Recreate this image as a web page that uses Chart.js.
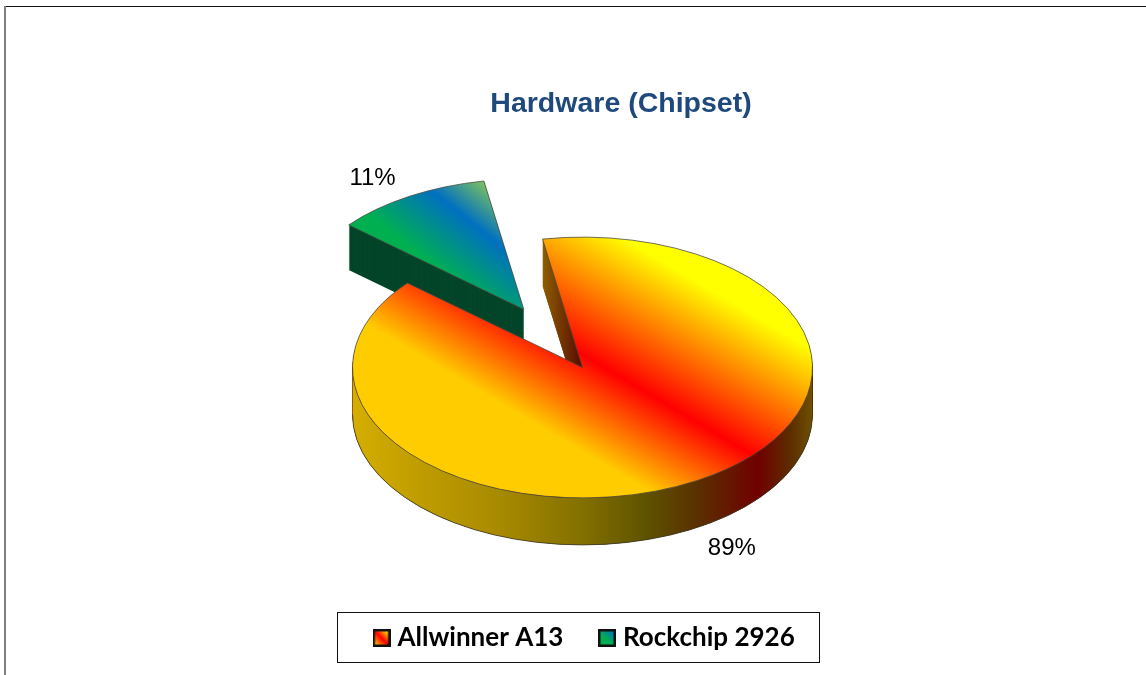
<!DOCTYPE html>
<html>
<head>
<meta charset="utf-8">
<style>html,body{margin:0;padding:0;background:#fff}canvas{display:block}</style>
<script src="https://cdn.jsdelivr.net/npm/chart.js@4"></script>
</head>
<body>
<canvas id="c" width="1146" height="675"></canvas>
<script>
const categories = ["Allwinner A13", "Rockchip 2926"];
const seriesValues = [89, 11];
const valueLabels = ["89%", "11%"];
const chartTitle = "Hardware (Chipset)";

// layout / style of the tilted pie
const TX = 582.5, TY = 367.5, K = 0.567, R = 230, DEPTHS = [47, 45], EXPLODE = 118;
const labelOffsets = [[35, 68], [-37, -18]];

function cc(chart){const a=chart.chartArea;return [(a.left+a.right)/2,(a.top+a.bottom)/2];}
function makeBandGradient(ctx, center, slope, stops){
  const g=[-slope,K], n=g[0]*g[0]+g[1]*g[1], t0=TY-slope*TX;
  const P=t=>[center[0]+g[0]*(t-t0)/n, center[1]+g[1]*(t-t0)/n];
  const a=stops[0][0], b=stops[stops.length-1][0];
  const p=P(a), q=P(b);
  const gr=ctx.createLinearGradient(p[0],p[1],q[0],q[1]);
  stops.forEach(s=>gr.addColorStop((s[0]-a)/(b-a),s[1]));
  return gr;
}
const mainStops=[[-130,"#FFFF00"],[11,"#FF0000"],[108,"#FFCC00"],[300,"#FFCC00"]];
const rockStops=[[-215,"#92D050"],[-155,"#0070C0"],[-80,"#00B050"],[100,"#00B050"]];
const topCache={};
function topFill(c){
  const i=c.dataIndex; if(i===undefined) return "#000";
  if(topCache[i]) return topCache[i];
  const center=cc(c.chart), ctx=c.chart.ctx;
  topCache[i]= i===0 ? makeBandGradient(ctx,center,0.59,mainStops)
                     : makeBandGradient(ctx,center,0.8,rockStops);
  return topCache[i];
}
function swatch(i){
  const s=document.createElement("canvas"); s.width=18; s.height=18;
  const x=s.getContext("2d");
  const g=x.createLinearGradient(16,2,2,16);
  if(i===0){g.addColorStop(0,"#FFFF00");g.addColorStop(.5,"#FF0000");g.addColorStop(1,"#FFCC00");}
  else{g.addColorStop(0,"#0070C0");g.addColorStop(.6,"#00B050");g.addColorStop(1,"#00B050");}
  x.fillStyle="#111"; x.fillRect(0,0,18,18);
  x.fillStyle=g; x.fillRect(2.5,2.5,13,13);
  return s;
}
const swatches=categories.map((_,i)=>swatch(i));

function tilt(ctx,center,dy){
  ctx.translate(TX,TY+dy); ctx.scale(1,K); ctx.translate(-center[0],-center[1]);
}
const wallStops=[[0,"#D6AE00"],[.17,"#BC9A00"],[.32,"#A88A00"],[.5,"#837000"],[.64,"#5E5200"],[.75,"#5A3000"],[.88,"#700000"],[.95,"#5C2C00"],[1,"#6E5200"]];
const piePlugin={
  id:"pie3d",
  afterDatasetsUpdate(chart){
    const meta=chart.getDatasetMeta(0), el=meta.data[1];
    const mid=(el.startAngle+el.endAngle)/2;
    el.x+=Math.cos(mid)*EXPLODE; el.y+=Math.sin(mid)*EXPLODE;
  },
  afterLayout(chart){
    chart.titleBlock.left+=48; chart.titleBlock.right+=48;
    chart.titleBlock.top=104.5-17;
    const lg=chart.legend, pad=lg.options.labels.padding;
    lg.left=378.5-pad; lg.right=1146;
    lg.top=638-13-pad;
  },
  beforeDatasetsDraw(chart){
    const ctx=chart.ctx, center=cc(chart), meta=chart.getDatasetMeta(0);
    const main=meta.data[0], rock=meta.data[1];
    const sector=el=>{ctx.beginPath();ctx.moveTo(el.x,el.y);ctx.arc(el.x,el.y,el.outerRadius,el.startAngle,el.endAngle);ctx.closePath();};
    // Rockchip extruded side
    for(let d=DEPTHS[1];d>=1;d--){
      ctx.save(); tilt(ctx,center,d); sector(rock); ctx.fillStyle="#04452A"; ctx.fill(); ctx.restore();
    }
    // Allwinner cut wall
    const preV=s=>center[1]+(s-TY)/K;
    for(let d=DEPTHS[0];d>=1;d--){
      ctx.save(); tilt(ctx,center,d);
      const g=ctx.createLinearGradient(0,preV(237),0,preV(367));
      g.addColorStop(0,"#8E5E00"); g.addColorStop(1,"#560A00");
      sector(main); ctx.fillStyle=g; ctx.fill(); ctx.restore();
    }
    // Allwinner outer wall (front half)
    ctx.save(); tilt(ctx,center,0);
    const preX=s=>s-TX+center[0];
    const wg=ctx.createLinearGradient(preX(352),0,preX(813),0);
    wallStops.forEach(s=>wg.addColorStop(s[0],s[1]));
    ctx.beginPath();
    ctx.arc(main.x,main.y,main.outerRadius,0,Math.PI);
    ctx.arc(main.x,main.y+DEPTHS[0]/K,main.outerRadius,Math.PI,0,true);
    ctx.closePath();
    ctx.fillStyle=wg; ctx.fill();
    ctx.restore();
    ctx.save(); tilt(ctx,center,0);
    ctx.beginPath();
    ctx.arc(main.x,main.y+DEPTHS[0]/K,main.outerRadius,Math.PI,0,true);
    ctx.restore();
    ctx.strokeStyle="#3a3a2a"; ctx.lineWidth=.8; ctx.stroke();
    // tilt the library's own arcs
    ctx.save(); tilt(ctx,center,0);
  },
  afterDatasetsDraw(chart){
    const ctx=chart.ctx, meta=chart.getDatasetMeta(0), center=cc(chart);
    ctx.restore();
    // value labels
    ctx.save();
    ctx.font='24px "Liberation Sans"'; ctx.fillStyle="#000"; ctx.textAlign="center"; ctx.textBaseline="middle";
    meta.data.forEach((el,i)=>{
      const mid=(el.startAngle+el.endAngle)/2;
      const sx=TX+(el.x-center[0])+Math.cos(mid)*el.outerRadius;
      const sy=TY+K*((el.y-center[1])+Math.sin(mid)*el.outerRadius);
      ctx.fillText(valueLabels[i],sx+labelOffsets[i][0],sy+labelOffsets[i][1]);
    });
    ctx.restore();
  },
  afterDraw(chart){
    const ctx=chart.ctx;
    ctx.save();
    // outer chart frame
    ctx.strokeStyle="#111"; ctx.lineWidth=1.2;
    ctx.beginPath(); ctx.moveTo(4,6.5); ctx.lineTo(1146,6.5); ctx.stroke();
    ctx.strokeStyle="#808080"; ctx.lineWidth=2;
    ctx.beginPath(); ctx.moveTo(5,6); ctx.lineTo(5,675); ctx.stroke();
    // legend frame
    ctx.strokeStyle="#111"; ctx.lineWidth=1;
    ctx.strokeRect(337.5,612.5,482,50);
    ctx.restore();
  }
};

new Chart(document.getElementById("c"),{
  type:"pie",
  data:{labels:categories,datasets:[{
    data:seriesValues,
    backgroundColor:topFill,
    borderColor:"#4a4a40",
    borderWidth:1,
    radius:R
  }]},
  options:{
    responsive:false,
    animation:false,
    events:[],
    rotation:-10,
    plugins:{
      tooltip:{enabled:false},
      title:{display:true,text:chartTitle,color:"#1F497D",padding:0,
        font:{family:'"Liberation Sans"',size:28.5,weight:"bold"}},
      legend:{position:"bottom",align:"start",
        labels:{usePointStyle:true,boxWidth:6,boxHeight:6,padding:40.6,color:"#000",
          font:{family:"Lato",size:26,weight:"bold"},
          generateLabels(){return categories.map((text,i)=>({text,pointStyle:swatches[i],hidden:false,index:i,lineWidth:0,fontColor:"#000"}));}
        }}
    }
  },
  plugins:[piePlugin]
});
</script>
</body>
</html>
